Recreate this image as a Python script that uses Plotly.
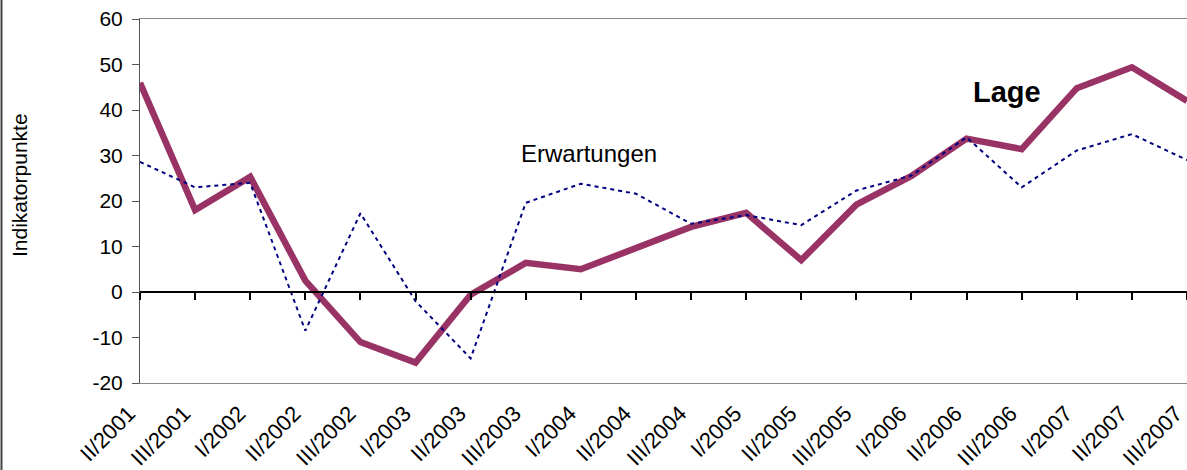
import plotly.graph_objects as go

periods = ["II/2001", "III/2001", "I/2002", "II/2002", "III/2002", "I/2003", "II/2003",
           "III/2003", "I/2004", "II/2004", "III/2004", "I/2005", "II/2005", "III/2005",
           "I/2006", "II/2006", "III/2006", "I/2007", "II/2007", "III/2007"]
lage = [46, 18, 25.3, 2.5, -11, -15.5, -0.6, 6.4, 5, 9.7, 14.3, 17.4, 7, 19.2,
        25.5, 33.7, 31.4, 44.8, 49.4, 42]
erwartungen = [28.6, 23, 24, -8.5, 17.3, -2, -14.6, 19.6, 23.8, 21.6, 15, 16.9, 14.7, 22.3,
               25.6, 34, 23, 31.1, 34.7, 29]
y_ticks = [-20, -10, 0, 10, 20, 30, 40, 50, 60]
y_labels = [str(v) for v in y_ticks]

FONT = "Liberation Sans, Arial, sans-serif"

fig = go.Figure()
fig.add_trace(go.Scatter(x=periods, y=lage, mode="lines", name="Lage",
                         line=dict(color="#993366", width=6.5), xaxis="x", yaxis="y"))
fig.add_trace(go.Scatter(x=periods, y=erwartungen, mode="lines", name="Erwartungen",
                         line=dict(color="#000080", width=2, dash="4px,4px"),
                         xaxis="x2", yaxis="y"))

n = len(periods)
fig.update_layout(
    width=1187, height=470,
    margin=dict(l=140, r=0, t=19, b=87),
    paper_bgcolor="white", plot_bgcolor="white",
    showlegend=False,
    font=dict(family=FONT, color="black", size=20),
    xaxis=dict(type="category", range=[0, n - 1], showgrid=False, zeroline=False,
               showline=True, linecolor="#888888", linewidth=1, mirror=True,
               ticks="", tickangle=-45, tickfont=dict(size=22), automargin=False,
               ticklabelstandoff=8, ticklabelshift=-11),
    xaxis2=dict(type="category", range=[0, n - 1], overlaying="x", anchor="free",
                position=0.25, showgrid=False, zeroline=False, showline=True,
                linecolor="black", linewidth=2, ticks="outside", ticklen=7, tickwidth=2,
                tickcolor="black", showticklabels=False, automargin=False),
    yaxis=dict(range=[-20, 60], tickvals=y_ticks, ticktext=y_labels, showgrid=False,
               zeroline=False, showline=True, linecolor="#555555", linewidth=1,
               ticks="outside", ticklen=7, tickcolor="#555555", tickfont=dict(size=21),
               automargin=False, ticklabelstandoff=5),
    annotations=[
        dict(text="Indikatorpunkte", xref="paper", yref="paper", x=-0.1146, y=0.544,
             textangle=-90, showarrow=False, font=dict(size=21), xanchor="center",
             yanchor="middle"),
        dict(text="Erwartungen", xref="x", yref="y", x=8.14, y=30.5, showarrow=False,
             font=dict(size=24), xanchor="center", yanchor="middle"),
        dict(text="<b>Lage</b>", xref="x", yref="y", x=15.73, y=44, showarrow=False,
             font=dict(size=29), xanchor="center", yanchor="middle"),
    ],
    shapes=[dict(type="line", xref="paper", yref="paper", x0=-0.1323, x1=-0.1323,
                 y0=-0.3, y1=1.06, line=dict(color="#444444", width=2))],
)

fig.write_html("out.html", config={"displayModeBar": False},
               post_script="document.body.style.margin='0';")
